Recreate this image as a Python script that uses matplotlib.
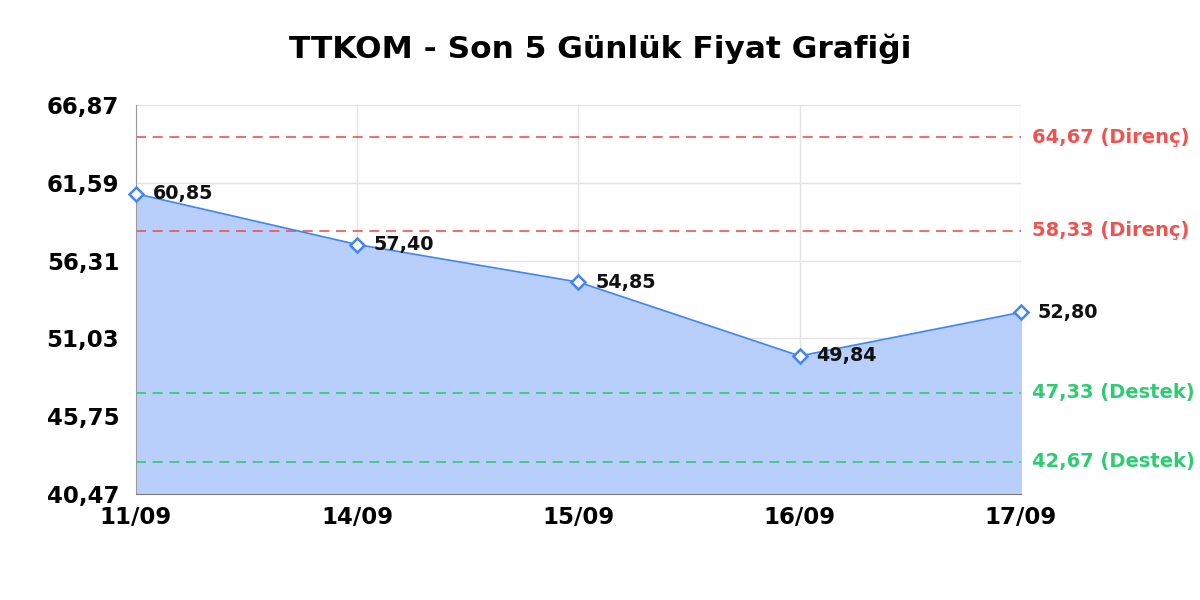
import numpy as np
import matplotlib.pyplot as plt

plt.rcParams['font.family'] = ['DejaVu Sans']

# data
dates = ["11/09", "14/09", "15/09", "16/09", "17/09"]
prices = [60.85, 57.40, 54.85, 49.84, 52.80]
yticks = [40.47, 45.75, 51.03, 56.31, 61.59, 66.87]
resistance = [64.67, 58.33]
support = [47.33, 42.67]

blue = "#4285f4"
red = "#ef5350"
green = "#2ecc71"


def tr(v):
    return f"{v:.2f}".replace(".", ",")


fig = plt.figure(figsize=(12, 6), dpi=100)
ax = fig.add_axes([0.1133, 0.1767, 0.7375, 0.6483])

x = np.arange(len(dates))
ax.fill_between(x, prices, yticks[0], color="#b7cffa", zorder=1)
ax.plot(x, prices, color=blue, lw=1.2, zorder=3)
ax.plot(x, prices, "D", ms=7.5, mfc="white", mec=blue, mew=1.8, zorder=4,
        clip_on=False)

for xi, p in zip(x, prices):
    ax.annotate(tr(p), (xi, p), xytext=(12, 0), textcoords="offset points",
                va="center", ha="left", fontsize=13.8, fontweight="bold",
                color="#111111", zorder=5)

for r in resistance:
    ax.axhline(r, color=red, ls=(0, (6, 4)), lw=1.2, zorder=2)
    ax.text(1.012, r, f"{tr(r)} (Direnç)", transform=ax.get_yaxis_transform(),
            color=red, fontsize=14, fontweight="bold", va="center", ha="left")
for s in support:
    ax.axhline(s, color=green, ls=(0, (6, 4)), lw=1.2, zorder=2)
    ax.text(1.012, s, f"{tr(s)} (Destek)", transform=ax.get_yaxis_transform(),
            color=green, fontsize=14, fontweight="bold", va="center", ha="left")

ax.set_xlim(0, len(dates) - 1)
ax.set_ylim(yticks[0], yticks[-1])
ax.set_xticks(x)
ax.set_xticklabels(dates, fontsize=16.5, fontweight="bold")
ax.set_yticks(yticks)
ax.set_yticklabels([tr(t) for t in yticks], fontsize=16.5, fontweight="bold")
ax.tick_params(axis="y", length=0, pad=12)
ax.tick_params(axis="x", length=0, pad=9)
ax.grid(True, color="#e3e3e3", lw=1, zorder=0)
ax.set_axisbelow(True)
for side in ["top", "right"]:
    ax.spines[side].set_visible(False)
ax.spines["left"].set_color("#999999")
ax.spines["bottom"].set_color("#777777")

fig.text(0.5, 1 - 49 / 600, "TTKOM - Son 5 Günlük Fiyat Grafiği",
         ha="center", va="center", fontsize=22.5, fontweight="bold")

fig.savefig("out.png", dpi=100)
